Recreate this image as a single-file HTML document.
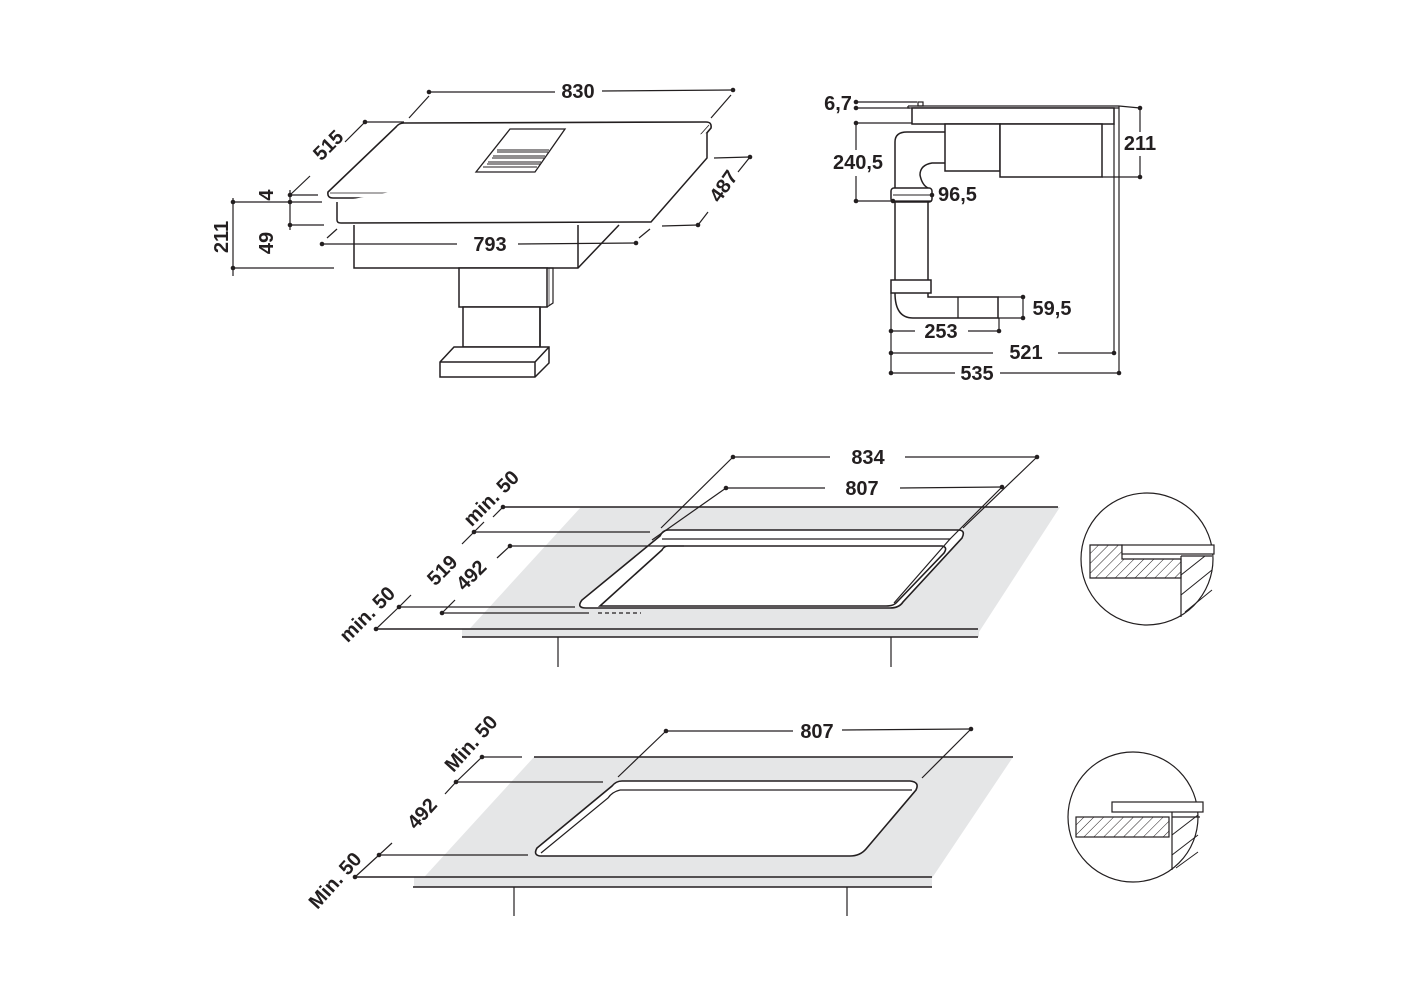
<!DOCTYPE html>
<html><head><style>
html,body{margin:0;padding:0;background:#fff;}
svg{display:block;}
text{font-family:"Liberation Sans",sans-serif;font-weight:bold;font-size:20px;fill:#231f20;}
</style></head><body>
<svg width="1425" height="1000" viewBox="0 0 1425 1000" xmlns="http://www.w3.org/2000/svg">
<defs>
<pattern id="h" width="7" height="7" patternUnits="userSpaceOnUse" patternTransform="rotate(45)">
<line x1="0" y1="0" x2="0" y2="7" stroke="#231f20" stroke-width="1"/></pattern>
</defs>
<g stroke="#231f20" stroke-width="1.2" fill="none">
<!-- ===== Top-left hob ===== -->
<path d="M404,123 L706,122 Q712,122 711,128 L657,192 Q652,198 645,198 L333,198 Q327,198 328,192 L396,127 Q399,123 404,123 Z" fill="#fff" stroke-width="1.6"/>
<path d="M330,193 L648,193 L709,125" stroke-width="0.8"/>
<path d="M337,202 L337,220 Q337,223 341,223 L651,222 L707,158 L707,133" fill="#fff" stroke-width="1.5"/>
<path d="M354,225 L354,268 L578,268 L619,225" fill="#fff" stroke-width="1.5"/>
<line x1="578" y1="225" x2="578" y2="268" stroke-width="1.5"/>
<rect x="459" y="268" width="88" height="39" fill="#fff" stroke-width="1.5"/>
<path d="M547,268 L553,268 L553,303 L547,307" stroke-width="1.2"/>
<line x1="549" y1="268" x2="549" y2="305" stroke-width="0.7"/>
<rect x="463" y="307" width="77" height="40" fill="#fff" stroke-width="1.5"/>
<line x1="540" y1="307" x2="540" y2="347" stroke-width="1.5"/>
<path d="M440,362 L454,347 L549,347 L549,363 L535,377 L440,377 Z" fill="#fff" stroke-width="1.5"/>
<path d="M440,362 L535,362 L549,347 M535,362 L535,377" stroke-width="1.5"/>
<!-- vent -->
<path d="M510,129 L565,129 L535,172 L476,172 Z" stroke-width="1.3"/>
<path d="M497,150 L549,150 M493,156 L545,156 M488,162 L541,162 M483,167 L537,167 M497,152 L548,152 M492,158 L544,158 M487,164 L540,164" stroke-width="1"/>
<!-- dims -->
<line x1="429" y1="92" x2="555" y2="92"/><line x1="602" y1="91" x2="733" y2="90"/>
<line x1="409" y1="118" x2="429" y2="96"/><line x1="711" y1="118" x2="731" y2="95"/>
<line x1="365" y1="122" x2="404" y2="122"/>
<line x1="365" y1="122" x2="345" y2="142"/><line x1="310" y1="176" x2="290" y2="195"/>
<line x1="290" y1="195" x2="318" y2="195"/><line x1="290" y1="202" x2="322" y2="202"/>
<line x1="290" y1="190" x2="290" y2="230"/>
<line x1="290" y1="225" x2="324" y2="225"/>
<line x1="233" y1="198" x2="233" y2="276"/>
<line x1="233" y1="202" x2="290" y2="202"/>
<line x1="233" y1="268" x2="334" y2="268"/>
<line x1="322" y1="244" x2="457" y2="244"/><line x1="518" y1="244" x2="636" y2="243"/>
<line x1="327" y1="238" x2="337" y2="229"/><line x1="639" y1="238" x2="650" y2="229"/>
<line x1="714" y1="158" x2="750" y2="157"/><line x1="662" y1="226" x2="698" y2="225"/>
<line x1="750" y1="157" x2="738" y2="172"/><line x1="708" y1="212" x2="698" y2="225"/>
<!-- ===== Top-right side view ===== -->
<line x1="856" y1="102" x2="917" y2="102"/><line x1="856" y1="108" x2="910" y2="108"/>
<rect x="918" y="102" width="5" height="4" fill="#fff"/>
<path d="M908,106 L1119,106 M908,106 L908,108 L1119,108" stroke-width="1.3"/>
<rect x="912" y="108" width="202" height="16" fill="#fff" stroke-width="1.5"/>
<line x1="856" y1="123" x2="912" y2="123"/>
<rect x="945" y="124" width="55" height="47" fill="#fff" stroke-width="1.5"/>
<rect x="1000" y="124" width="102" height="53" fill="#fff" stroke-width="1.5"/>
<line x1="1102" y1="177" x2="1140" y2="177"/>
<line x1="1119" y1="106" x2="1140" y2="108"/>
<line x1="1140" y1="108" x2="1140" y2="132"/><line x1="1140" y1="156" x2="1140" y2="177"/>
<line x1="1119" y1="106" x2="1119" y2="373"/><line x1="1114" y1="124" x2="1114" y2="353"/>
<path d="M895,188 L895,142 Q895,132 907,132 L945,132" stroke-width="1.5"/>
<path d="M945,163 L932,163 Q920,165 920,175 Q922,185 928,188" stroke-width="1.5"/>
<rect x="891" y="188" width="41" height="14" rx="3" fill="#fff" stroke-width="1.5"/>
<line x1="893" y1="195" x2="930" y2="195" stroke-width="1"/>
<line x1="856" y1="123" x2="856" y2="150"/><line x1="856" y1="176" x2="856" y2="201"/>
<line x1="856" y1="201" x2="932" y2="201"/>
<line x1="895" y1="202" x2="895" y2="280" stroke-width="1.5"/><line x1="928" y1="202" x2="928" y2="280" stroke-width="1.5"/>
<rect x="891" y="280" width="40" height="13" fill="#fff" stroke-width="1.5"/>
<path d="M895,293 Q895,318 913,318 L998,318 L998,297 L928,297 L928,293" stroke-width="1.5"/>
<line x1="958" y1="297" x2="958" y2="318" stroke-width="1.3"/>
<line x1="998" y1="297" x2="1023" y2="297"/><line x1="998" y1="318" x2="1023" y2="318"/>
<line x1="1023" y1="297" x2="1023" y2="318"/>
<line x1="891" y1="293" x2="891" y2="373"/><line x1="999" y1="318" x2="999" y2="331"/>
<line x1="891" y1="331" x2="915" y2="331"/><line x1="968" y1="331" x2="999" y2="331"/>
<line x1="891" y1="353" x2="993" y2="353"/><line x1="1058" y1="353" x2="1114" y2="353"/>
<line x1="891" y1="373" x2="955" y2="373"/><line x1="1000" y1="373" x2="1119" y2="373"/>
</g>
<!-- dots -->
<g fill="#231f20">
<circle cx="429" cy="92" r="2.3"/><circle cx="733" cy="90" r="2.3"/>
<circle cx="365" cy="122" r="2.3"/><circle cx="290" cy="195" r="2.3"/><circle cx="290" cy="202" r="2.3"/><circle cx="290" cy="225" r="2.3"/>
<circle cx="233" cy="202" r="2.3"/><circle cx="233" cy="268" r="2.3"/>
<circle cx="322" cy="244" r="2.3"/><circle cx="636" cy="243" r="2.3"/>
<circle cx="750" cy="157" r="2.3"/><circle cx="698" cy="225" r="2.3"/>
<circle cx="856" cy="102" r="2.3"/><circle cx="856" cy="108" r="2.3"/><circle cx="856" cy="123" r="2.3"/><circle cx="856" cy="201" r="2.3"/>
<circle cx="893" cy="201" r="2.3"/><circle cx="932" cy="195" r="2.3"/>
<circle cx="1140" cy="108" r="2.3"/><circle cx="1140" cy="177" r="2.3"/>
<circle cx="1023" cy="297" r="2.3"/><circle cx="1023" cy="318" r="2.3"/>
<circle cx="891" cy="331" r="2.3"/><circle cx="999" cy="331" r="2.3"/>
<circle cx="891" cy="353" r="2.3"/><circle cx="1114" cy="353" r="2.3"/>
<circle cx="891" cy="373" r="2.3"/><circle cx="1119" cy="373" r="2.3"/>
</g>
<text x="578" y="98" text-anchor="middle">830</text>
<text transform="translate(333,150) rotate(-45)" text-anchor="middle">515</text>
<text transform="translate(273,195) rotate(-90)" text-anchor="middle">4</text>
<text transform="translate(273,243) rotate(-90)" text-anchor="middle">49</text>
<text transform="translate(228,237) rotate(-90)" text-anchor="middle">211</text>
<text x="490" y="251" text-anchor="middle">793</text>
<text transform="translate(729,190) rotate(-55)" text-anchor="middle">487</text>
<text x="838" y="110" text-anchor="middle">6,7</text>
<text x="858" y="169" text-anchor="middle">240,5</text>
<text x="938" y="201">96,5</text>
<text x="1140" y="150" text-anchor="middle">211</text>
<text x="1052" y="315" text-anchor="middle">59,5</text>
<text x="941" y="338" text-anchor="middle">253</text>
<text x="1026" y="359" text-anchor="middle">521</text>
<text x="977" y="380" text-anchor="middle">535</text>

<!-- ===== Middle counter ===== -->
<path d="M581,507 L1060,507 L979,632 L463,636 Z" fill="#e5e6e7"/>
<rect x="462" y="629" width="517" height="8" fill="#e5e6e7"/>
<g stroke="#231f20" stroke-width="1.2" fill="none">
<line x1="503" y1="507" x2="1058" y2="507" stroke-width="1.6"/>
<line x1="376" y1="629" x2="978" y2="629" stroke-width="1.6"/>
<line x1="462" y1="637" x2="978" y2="637" stroke-width="1.6"/>
<line x1="558" y1="637" x2="558" y2="667"/><line x1="891" y1="637" x2="891" y2="667"/>
<path d="M668,530 L958,530 Q966,530 962,538 L903,602 Q899,608 890,608 L586,608 Q576,608 582,600 L660,536 Q663,530 668,530 Z" fill="#fff" stroke-width="1.6"/>
<path d="M662,539 L950,539 L894,603" stroke-width="1.2"/>
<path d="M668,546 L942,546 Q948,547 944,553 L896,603 Q893,606 886,606 L600,606 L662,550 Q664,546 668,546 Z" stroke-width="1.6"/>
<line x1="733" y1="457" x2="830" y2="457"/><line x1="905" y1="457" x2="1037" y2="457"/>
<line x1="726" y1="488" x2="825" y2="488"/><line x1="900" y1="488" x2="1002" y2="487"/>
<line x1="733" y1="457" x2="661" y2="528"/><line x1="1037" y1="457" x2="963" y2="528"/>
<line x1="726" y1="488" x2="652" y2="540"/><line x1="1002" y1="487" x2="949" y2="540"/>
<line x1="474" y1="532" x2="650" y2="532"/>
<line x1="510" y1="546" x2="684" y2="546"/>
<line x1="399" y1="607" x2="575" y2="607"/>
<line x1="442" y1="613" x2="589" y2="613"/>
<line x1="598" y1="613" x2="641" y2="613" stroke-dasharray="4,3"/>
<line x1="503" y1="507" x2="493" y2="517"/><line x1="484" y1="522" x2="474" y2="532"/>
<line x1="474" y1="532" x2="462" y2="544"/><line x1="411" y1="595" x2="399" y2="607"/>
<line x1="510" y1="546" x2="497" y2="558"/><line x1="455" y1="600" x2="442" y2="613"/>
<line x1="399" y1="607" x2="376" y2="629"/>
<!-- detail circle 1 -->
<circle cx="1147" cy="559" r="66" fill="#fff"/>
<path d="M1090,545 L1122,545 L1122,559 L1181,559 L1181,578 L1090,578 Z" fill="url(#h)"/>
<rect x="1122" y="545" width="92" height="9" fill="#fff"/>
<path d="M1181,556 L1212,556 M1181,556 L1181,617" />
<path d="M1181,575 L1205,556 M1181,595 L1212,570 M1185,612 L1212,590" stroke-width="1"/>
</g>
<g fill="#231f20">
<circle cx="733" cy="457" r="2.3"/><circle cx="1037" cy="457" r="2.3"/>
<circle cx="726" cy="488" r="2.3"/><circle cx="1002" cy="487" r="2.3"/>
<circle cx="503" cy="507" r="2.3"/><circle cx="474" cy="532" r="2.3"/><circle cx="510" cy="546" r="2.3"/>
<circle cx="399" cy="607" r="2.3"/><circle cx="442" cy="613" r="2.3"/><circle cx="376" cy="629" r="2.3"/>
</g>
<text x="868" y="464" text-anchor="middle">834</text>
<text x="862" y="495" text-anchor="middle">807</text>
<text transform="translate(496,503) rotate(-45)" text-anchor="middle">min. 50</text>
<text transform="translate(447,575) rotate(-45)" text-anchor="middle">519</text>
<text transform="translate(476,580) rotate(-45)" text-anchor="middle">492</text>
<text transform="translate(372,619) rotate(-45)" text-anchor="middle">min. 50</text>

<!-- ===== Bottom counter ===== -->
<path d="M534,757 L1013,757 L932,878 L416,886 Z" fill="#e5e6e7"/>
<rect x="414" y="877" width="518" height="10" fill="#e5e6e7"/>
<g stroke="#231f20" stroke-width="1.2" fill="none">
<line x1="534" y1="757" x2="1013" y2="757" stroke-width="1.6"/>
<line x1="482" y1="757" x2="522" y2="757"/>
<line x1="355" y1="877" x2="932" y2="877" stroke-width="1.6"/>
<line x1="413" y1="887" x2="932" y2="887" stroke-width="1.6"/>
<line x1="514" y1="887" x2="514" y2="916"/><line x1="847" y1="887" x2="847" y2="916"/>
<path d="M622,781 L910,781 Q920,782 916,790 L866,849 Q860,856 850,856 L540,856 Q533,855 537,848 L612,786 Q616,781 622,781 Z" fill="#fff" stroke-width="1.6"/>
<path d="M620,790 L912,790" stroke-width="1.2"/>
<path d="M620,790 Q612,792 608,798 L541,853" stroke-width="1.2"/>
<line x1="666" y1="731" x2="793" y2="731"/><line x1="842" y1="730" x2="971" y2="729"/>
<line x1="666" y1="731" x2="618" y2="777"/><line x1="971" y1="729" x2="922" y2="778"/>
<line x1="456" y1="782" x2="603" y2="782"/>
<line x1="379" y1="855" x2="528" y2="855"/>
<line x1="482" y1="757" x2="456" y2="782"/>
<line x1="456" y1="782" x2="445" y2="794"/><line x1="392" y1="843" x2="379" y2="855"/>
<line x1="379" y1="855" x2="355" y2="877"/>
<!-- detail circle 2 -->
<circle cx="1133" cy="817" r="65" fill="#fff"/>
<rect x="1112" y="802" width="91" height="10" fill="#fff"/>
<rect x="1076" y="817" width="93" height="20" fill="url(#h)"/>
<path d="M1172,812 L1172,870 M1172,817 L1200,817"/>
<path d="M1172,835 L1198,815 M1172,855 L1198,835 M1176,868 L1198,852" stroke-width="1"/>
</g>
<g fill="#231f20">
<circle cx="666" cy="731" r="2.3"/><circle cx="971" cy="729" r="2.3"/>
<circle cx="482" cy="757" r="2.3"/><circle cx="456" cy="782" r="2.3"/>
<circle cx="379" cy="855" r="2.3"/><circle cx="355" cy="877" r="2.3"/>
</g>
<text x="817" y="738" text-anchor="middle">807</text>
<text transform="translate(476,748) rotate(-48)" text-anchor="middle">Min. 50</text>
<text transform="translate(427,818) rotate(-48)" text-anchor="middle">492</text>
<text transform="translate(340,885) rotate(-48)" text-anchor="middle">Min. 50</text>
</svg>
</body></html>
